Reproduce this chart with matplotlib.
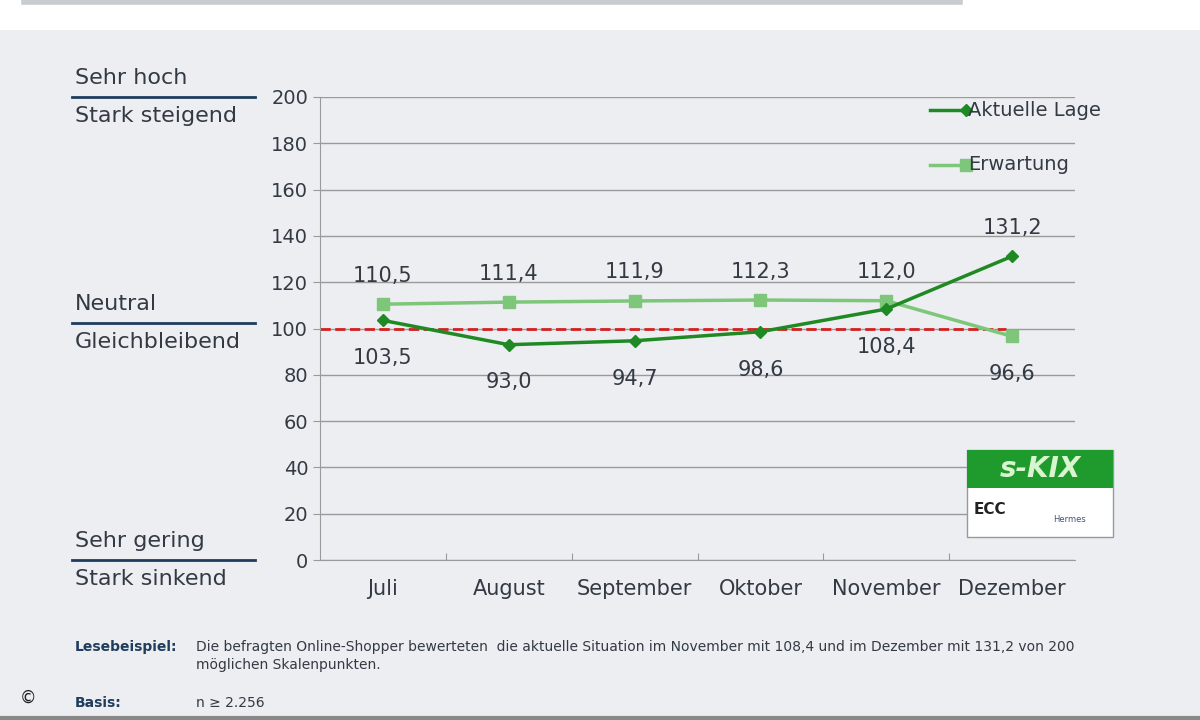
import matplotlib.pyplot as plt
from matplotlib.patches import Rectangle
from matplotlib.lines import Line2D

months = ['Juli', 'August', 'September', 'Oktober', 'November', 'Dezember']
aktuelle = [103.5, 93.0, 94.7, 98.6, 108.4, 131.2]
erwartung = [110.5, 111.4, 111.9, 112.3, 112.0, 96.6]
yticks = list(range(0, 201, 20))

dark = '#1f8a24'
light = '#7dc67a'
txt = '#333a44'
navy = '#1f3d5c'

fig = plt.figure(figsize=(12, 7.2), dpi=100)
fig.patch.set_facecolor('#eceef2')
# white header strip
fig.patches.append(Rectangle((0, 1 - 30 / 720), 1, 30 / 720, transform=fig.transFigure,
                             facecolor='white', edgecolor='none'))
fig.lines.append(Line2D([0.02, 0.8], [0.997, 0.997], transform=fig.transFigure, color='#c8ccd0', lw=4))

ax = fig.add_axes([320 / 1200, 1 - 560 / 720, 755 / 1200, 463 / 720])
ax.set_facecolor('none')
x = list(range(len(months)))
ax.set_xlim(-0.5, 5.5)
ax.set_ylim(0, 200)
ax.set_yticks(yticks)
ax.set_yticklabels([str(v) for v in yticks], fontsize=14, color=txt)
ax.yaxis.grid(True, color='#9a9a9a', lw=1)
ax.set_axisbelow(True)
for s in ['top', 'right']:
    ax.spines[s].set_visible(False)
ax.spines['left'].set_color('#9a9a9a')
ax.spines['bottom'].set_color('#9a9a9a')
ax.tick_params(axis='y', length=5, color='#9a9a9a')
ax.set_xticks([i + 0.5 for i in range(5)], minor=False)
ax.set_xticklabels([])
ax.tick_params(axis='x', length=5, color='#9a9a9a', direction='in')
for i, m in enumerate(months):
    ax.text(i, -8, m, ha='center', va='top', fontsize=15, color=txt)

ax.plot([-0.5, 4.95], [100, 100], color='#d42020', ls='--', lw=2, zorder=2)
ax.plot(x, erwartung, color=light, marker='s', ms=9, lw=2.5, zorder=3, label='Erwartung')
ax.plot(x, aktuelle, color=dark, marker='D', ms=6, lw=2.5, zorder=4, label='Aktuelle Lage')

fmt = lambda v: ('%.1f' % v).replace('.', ',')
for i in x:
    a, e = aktuelle[i], erwartung[i]
    if a > e:
        ax.text(i, a + 8, fmt(a), ha='center', va='bottom', fontsize=15, color=txt)
        ax.text(i, e - 12, fmt(e), ha='center', va='top', fontsize=15, color=txt)
    else:
        ax.text(i, e + 8, fmt(e), ha='center', va='bottom', fontsize=15, color=txt)
        ax.text(i, a - 12, fmt(a), ha='center', va='top', fontsize=15, color=txt)

# legend
for lab, col, mk, ms, py in [('Aktuelle Lage', dark, 'D', 6, 110), ('Erwartung', light, 's', 8, 165)]:
    fy = 1 - py / 720
    fig.lines.append(Line2D([930 / 1200, 966 / 1200], [fy, fy], transform=fig.transFigure,
                            color=col, lw=2.5, marker=mk, ms=ms, markevery=[1]))
    fig.text(968 / 1200, fy, lab, fontsize=14, color=txt, va='center')

# left scale descriptions
for top, bottom, ly in [('Sehr hoch', 'Stark steigend', 97), ('Neutral', 'Gleichbleibend', 323),
                        ('Sehr gering', 'Stark sinkend', 560)]:
    fy = 1 - ly / 720
    fig.lines.append(Line2D([72 / 1200, 255 / 1200], [fy, fy], transform=fig.transFigure, color=navy, lw=2))
    fig.text(75 / 1200, fy + 0.013, top, fontsize=16, color=txt, va='bottom')
    fig.text(75 / 1200, fy - 0.013, bottom, fontsize=16, color=txt, va='top')

# s-KIX logo box
fig.patches.append(Rectangle((967 / 1200, 1 - 537 / 720), 146 / 1200, 87 / 720, transform=fig.transFigure,
                             facecolor='white', edgecolor='#999999', lw=1))
fig.patches.append(Rectangle((967 / 1200, 1 - 488 / 720), 146 / 1200, 38 / 720, transform=fig.transFigure,
                             facecolor='#1f9a2c', edgecolor='none'))
fig.text(1040 / 1200, 1 - 469 / 720, 's-KIX', fontsize=20, fontweight='bold', style='italic',
         color='#d8f5d0', ha='center', va='center')
fig.text(990 / 1200, 1 - 510 / 720, 'ECC', fontsize=11, fontweight='bold', color='#222222', ha='center', va='center')
fig.text(1070 / 1200, 1 - 520 / 720, 'Hermes', fontsize=6, color='#445577', ha='center', va='center')

# footer
fig.text(75 / 1200, 1 - 647 / 720, 'Lesebeispiel:', fontsize=10, fontweight='bold', color=navy, va='center')
fig.text(196 / 1200, 1 - 647 / 720,
         'Die befragten Online-Shopper bewerteten  die aktuelle Situation im November mit 108,4 und im Dezember mit 131,2 von 200',
         fontsize=10, color=txt, va='center')
fig.text(196 / 1200, 1 - 665 / 720, 'möglichen Skalenpunkten.', fontsize=10, color=txt, va='center')
fig.text(75 / 1200, 1 - 703 / 720, 'Basis:', fontsize=10, fontweight='bold', color=navy, va='center')
fig.text(196 / 1200, 1 - 703 / 720, 'n ≥ 2.256', fontsize=10, color=txt, va='center')
fig.text(20 / 1200, 1 - 698 / 720, '©', fontsize=12, color='#222222', va='center')
fig.lines.append(Line2D([0, 1], [0.003, 0.003], transform=fig.transFigure, color='#888888', lw=3))

fig.savefig('out.png', dpi=100, facecolor=fig.get_facecolor())
